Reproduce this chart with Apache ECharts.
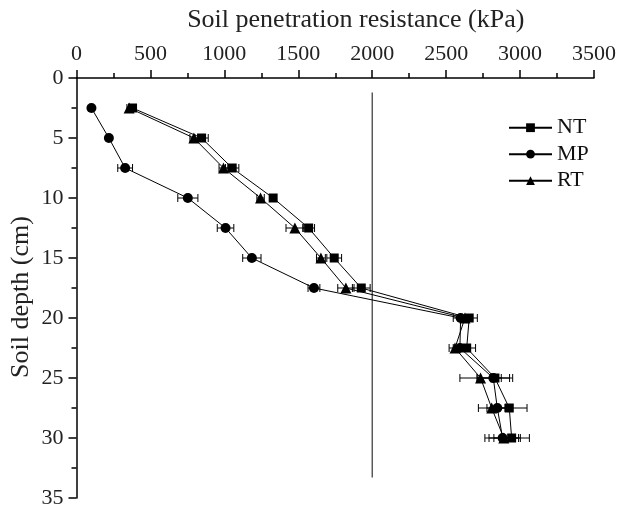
<!DOCTYPE html>
<html>
<head>
<meta charset="utf-8">
<script src="https://cdn.jsdelivr.net/npm/echarts@6/dist/echarts.min.js"></script>
<style>
html,body{margin:0;padding:0;background:#fff;}
#chart{width:617px;height:508px;}
</style>
</head>
<body>
<div id="chart"></div>
<script>
// Data
var depths = [2.5, 5, 7.5, 10, 12.5, 15, 17.5, 20, 22.5, 25, 27.5, 30];
var ntValues = [379, 846, 1053, 1330, 1570, 1743, 1926, 2656, 2639, 2830, 2927, 2943];
var mpValues = [101, 219, 329, 753, 1008, 1186, 1606, 2598, 2593, 2819, 2846, 2882];
var rtValues = [356, 794, 994, 1245, 1477, 1653, 1822, 2627, 2560, 2733, 2808, 2890];
var ntErrors = [15, 45, 45, 20, 40, 50, 60, 55, 60, 120, 120, 120];
var mpErrors = [10, 10, 50, 68, 56, 62, 40, 50, 45, 110, 70, 120];
var rtErrors = [15, 27, 30, 25, 60, 30, 55, 40, 40, 140, 90, 100];
var seriesNames = ['NT', 'MP', 'RT'];
var refLineX = [2000, 2000];
var refLineDepth = [1.2, 33.3];
var xTitle = 'Soil penetration resistance (kPa)';
var yTitle = 'Soil depth (cm)';

var FONT = '"Liberation Serif", "DejaVu Serif", serif';

function pairs(xs) {
  return xs.map(function (v, i) { return [v, depths[i]]; });
}
function errData(xs, es) {
  return xs.map(function (v, i) { return [v - es[i], v + es[i], depths[i]]; });
}
function errorSeries(name, xs, es) {
  return {
    type: 'custom',
    name: name + ' err',
    z: 1,
    silent: true,
    data: errData(xs, es),
    encode: { x: [0, 1], y: 2 },
    renderItem: function (params, api) {
      var lo = api.coord([api.value(0), api.value(2)]);
      var hi = api.coord([api.value(1), api.value(2)]);
      var h = 4;
      var style = { stroke: '#000', lineWidth: 1, fill: null };
      return {
        type: 'group',
        children: [
          { type: 'line', shape: { x1: lo[0], y1: lo[1], x2: hi[0], y2: hi[1] }, style: style },
          { type: 'line', shape: { x1: lo[0], y1: lo[1] - h, x2: lo[0], y2: lo[1] + h }, style: style },
          { type: 'line', shape: { x1: hi[0], y1: hi[1] - h, x2: hi[0], y2: hi[1] + h }, style: style }
        ]
      };
    }
  };
}
function lineSeries(name, xs, symbol, size) {
  return {
    type: 'line',
    name: name,
    z: 3,
    data: pairs(xs),
    symbol: symbol,
    symbolSize: size,
    showAllSymbol: true,
    lineStyle: { color: '#000', width: 1 },
    itemStyle: { color: '#000', borderWidth: 0 },
    emphasis: { disabled: true },
    animation: false
  };
}
function plain(v) { return String(v); }

var tickStyle = { color: '#000', width: 1.5 };

var chart = echarts.init(document.getElementById('chart'), null, { renderer: 'canvas' });
chart.setOption({
  animation: false,
  backgroundColor: '#fff',
  textStyle: { fontFamily: FONT },
  grid: { left: 76.5, top: 78, width: 517.5, height: 420, containLabel: false, outerBoundsMode: 'none' },
  legend: {
    data: seriesNames,
    orient: 'vertical',
    left: 503,
    top: 111.7,
    itemWidth: 43,
    itemHeight: 11,
    itemGap: 4.5,
    textStyle: { fontFamily: FONT, fontSize: 22, lineHeight: 22, color: '#111' },
    selectedMode: false
  },
  xAxis: {
    type: 'value',
    position: 'top',
    min: 0, max: 3500, interval: 500,
    name: xTitle,
    nameLocation: 'middle',
    nameGap: 45,
    nameMoveOverlap: false,
    nameTextStyle: { fontFamily: FONT, fontSize: 26, color: '#222', padding: [0, 0, 0, 41] },
    axisLine: { show: true, onZero: false, lineStyle: { color: '#000', width: 1.5 } },
    axisTick: { show: true, inside: false, length: 8, lineStyle: tickStyle },
    minorTick: { show: true, splitNumber: 2, length: 5, lineStyle: tickStyle },
    axisLabel: { fontFamily: FONT, fontSize: 22, color: '#222', margin: 13, formatter: plain },
    splitLine: { show: false }
  },
  yAxis: {
    type: 'value',
    inverse: true,
    min: 0, max: 35, interval: 5,
    name: yTitle,
    nameLocation: 'middle',
    nameGap: 42,
    nameRotate: 90,
    nameMoveOverlap: false,
    nameTextStyle: { fontFamily: FONT, fontSize: 26, color: '#222', padding: [0, 18, 0, 0] },
    axisLine: { show: true, onZero: false, lineStyle: { color: '#000', width: 1.5 } },
    axisTick: { show: true, inside: false, length: 8, lineStyle: tickStyle },
    minorTick: { show: true, splitNumber: 2, length: 5, lineStyle: tickStyle },
    axisLabel: { fontFamily: FONT, fontSize: 22, color: '#222', margin: 13, formatter: plain },
    splitLine: { show: false }
  },
  series: [
    errorSeries('NT', ntValues, ntErrors),
    errorSeries('MP', mpValues, mpErrors),
    errorSeries('RT', rtValues, rtErrors),
    lineSeries('NT', ntValues, 'rect', 9),
    lineSeries('MP', mpValues, 'circle', 10),
    lineSeries('RT', rtValues, 'triangle', 11),
    {
      type: 'line',
      name: 'ref',
      z: 0,
      data: refLineX.map(function (v, i) { return [v, refLineDepth[i]]; }),
      symbol: 'none',
      lineStyle: { color: '#333', width: 1.2 },
      silent: true
    }
  ]
});
</script>
</body>
</html>
